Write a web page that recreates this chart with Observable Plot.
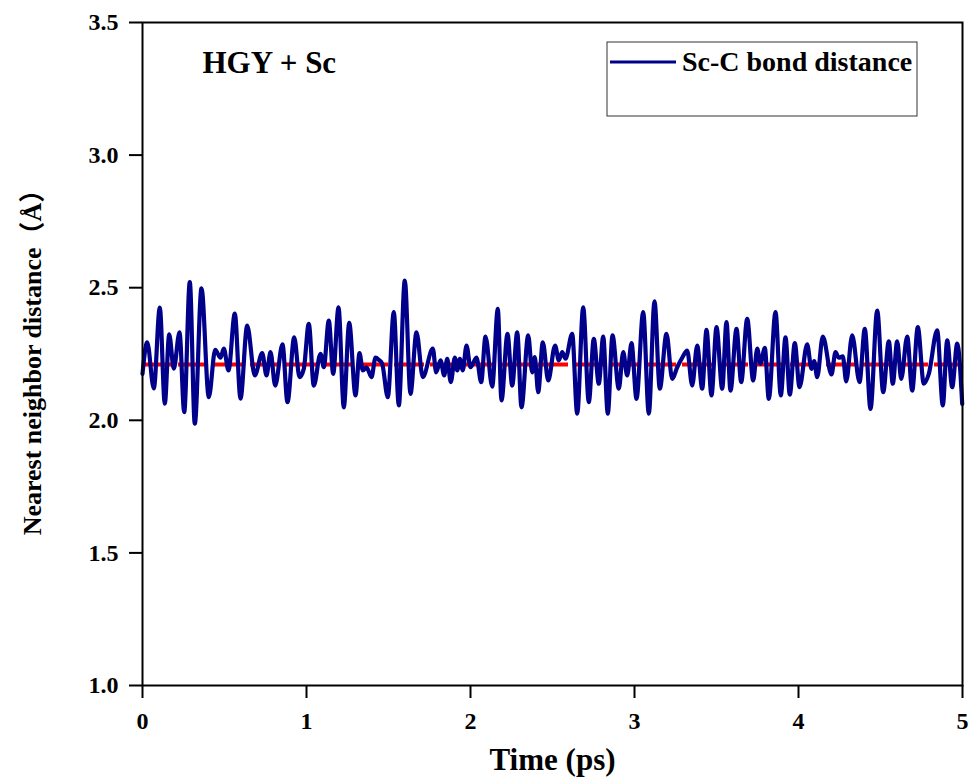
<!DOCTYPE html>
<html>
<head>
<meta charset="utf-8">
<script src="https://cdn.jsdelivr.net/npm/d3@7"></script>
<script src="https://cdn.jsdelivr.net/npm/@observablehq/plot@0.6"></script>
<style>
  html, body { margin: 0; padding: 0; background: #fff; }
  #chart svg { display: block; }
</style>
</head>
<body>
<div id="chart"></div>
<script>
// Time (ps) of the read extrema / shape points
const time = [
  0, 0.0287, 0.0689, 0.1055, 0.136, 0.1628, 0.1909, 0.2256, 0.2543, 0.2884,
  0.3189, 0.3598, 0.4043, 0.4433, 0.4756, 0.4957, 0.5244, 0.5628, 0.5976, 0.6384,
  0.6848, 0.7299, 0.7561, 0.7805, 0.8091, 0.8537, 0.8841, 0.925, 0.9573, 0.9835,
  1.014, 1.0445, 1.0854, 1.1055, 1.136, 1.1628, 1.1951, 1.2274, 1.2604, 1.2988,
  1.3232, 1.3433, 1.3659, 1.3963, 1.4207, 1.4409, 1.4616, 1.4957, 1.5323, 1.5628,
  1.5994, 1.6341, 1.6707, 1.7091, 1.7701, 1.7909, 1.8171, 1.8396, 1.858, 1.8799,
  1.9043, 1.9189, 1.9348, 1.953, 1.9756, 2.0, 2.0366, 2.0652, 2.0915, 2.1323,
  2.1665, 2.189, 2.2256, 2.2543, 2.2848, 2.311, 2.3518, 2.3762, 2.3921, 2.4128,
  2.4409, 2.4738, 2.5159, 2.5384, 2.5591, 2.5793, 2.6201, 2.6506, 2.6872, 2.7213,
  2.7518, 2.7823, 2.8091, 2.8372, 2.8659, 2.9043, 2.9311, 2.9555, 2.9817, 3.0122,
  3.053, 3.0872, 3.122, 3.1543, 3.1951, 3.2299, 3.2604, 3.2909, 3.3213, 3.3518,
  3.3823, 3.4128, 3.439, 3.4695, 3.5, 3.5348, 3.561, 3.5854, 3.622, 3.6506,
  3.6872, 3.7238, 3.7482, 3.7683, 3.7945, 3.8189, 3.8598, 3.8921, 3.9207, 3.947,
  3.9774, 4.0061, 4.053, 4.0793, 4.0957, 4.114, 4.1482, 4.2012, 4.2256, 4.2457,
  4.2701, 4.2909, 4.3274, 4.372, 4.4043, 4.439, 4.4799, 4.5165, 4.5506, 4.575,
  4.6018, 4.6262, 4.6628, 4.6933, 4.7274, 4.764, 4.7945, 4.8457, 4.8799, 4.9067,
  4.9372, 4.9677, 4.9982
];
// Sc-C nearest neighbor distance (Å)
const distance = [
  2.175, 2.294, 2.120, 2.425, 2.063, 2.324, 2.195, 2.332, 2.031, 2.521,
  1.987, 2.498, 2.087, 2.266, 2.236, 2.270, 2.188, 2.402, 2.082, 2.357,
  2.169, 2.253, 2.169, 2.257, 2.131, 2.286, 2.068, 2.313, 2.163, 2.194,
  2.364, 2.131, 2.251, 2.200, 2.376, 2.175, 2.426, 2.049, 2.367, 2.094,
  2.253, 2.188, 2.200, 2.163, 2.236, 2.228, 2.213, 2.087, 2.408, 2.056,
  2.527, 2.100, 2.332, 2.163, 2.270, 2.181, 2.226, 2.169, 2.232, 2.144,
  2.236, 2.188, 2.232, 2.188, 2.282, 2.200, 2.236, 2.144, 2.316, 2.127,
  2.420, 2.075, 2.326, 2.131, 2.332, 2.049, 2.320, 2.181, 2.238, 2.106,
  2.294, 2.150, 2.282, 2.226, 2.257, 2.232, 2.326, 2.025, 2.426, 2.068,
  2.307, 2.138, 2.316, 2.025, 2.320, 2.119, 2.257, 2.169, 2.291, 2.081,
  2.408, 2.025, 2.449, 2.119, 2.326, 2.156, 2.200, 2.236, 2.263, 2.131,
  2.282, 2.119, 2.341, 2.094, 2.351, 2.119, 2.370, 2.112, 2.345, 2.144,
  2.383, 2.150, 2.270, 2.213, 2.273, 2.081, 2.408, 2.094, 2.313, 2.097,
  2.291, 2.125, 2.286, 2.194, 2.223, 2.163, 2.316, 2.173, 2.257, 2.236,
  2.241, 2.147, 2.320, 2.144, 2.345, 2.043, 2.414, 2.106, 2.298, 2.138,
  2.298, 2.156, 2.316, 2.112, 2.351, 2.138, 2.175, 2.339, 2.056, 2.301,
  2.125, 2.289, 2.062
];
const averageDistance = [2.21];
const xTicks = [0, 1, 2, 3, 4, 5];
const yTicks = [1.0, 1.5, 2.0, 2.5, 3.0, 3.5];
const seriesName = "Sc-C bond distance";
const systemLabel = "HGY + Sc";
const xLabel = "Time (ps)";
const yLabelMain = "Nearest neighbor distance";
const yLabelUnit = ["（", "Å", "）"];

const data = time.map((t, i) => ({t, d: distance[i]}));
const FONT = "'Liberation Serif', 'Times New Roman', serif";
const CJK = "'Noto Sans CJK SC', 'Noto Sans CJK JP', sans-serif";
const NAVY = "#00008b";

const plot = Plot.plot({
  width: 971,
  height: 783,
  marginLeft: 142,
  marginRight: 9,
  marginTop: 22,
  marginBottom: 98,
  style: {fontFamily: FONT, fontWeight: "bold", background: "#fff", overflow: "visible"},
  x: {domain: [0, 5]},
  y: {domain: [1.0, 3.5]},
  marks: [
    Plot.ruleY(averageDistance, {stroke: "#ff0000", strokeWidth: 4, strokeDasharray: "30,6"}),
    Plot.line(data, {x: "t", y: "d", stroke: NAVY, strokeWidth: 4.2, curve: "monotone-x"}),
    Plot.frame({stroke: "#000", strokeWidth: 2}),
    Plot.axisX({ticks: xTicks, tickSize: 13, tickPadding: 13, tickFormat: d3.format("d"),
      fontSize: 24, fontWeight: "bold", strokeWidth: 2, label: null}),
    Plot.axisY({ticks: yTicks, tickSize: 13, tickPadding: 11, tickFormat: d3.format(".1f"),
      fontSize: 24, fontWeight: "bold", strokeWidth: 2, label: null}),
    Plot.text([xLabel], {frameAnchor: "bottom", dy: 84, fontSize: 31, fontWeight: "bold", fill: "#000"}),
    Plot.text([systemLabel], {frameAnchor: "top-left", dx: 60, dy: 41, textAnchor: "start", lineAnchor: "middle",
      fontSize: 31, fontWeight: "bold", fill: "#000"})
  ]
});

const svg = d3.select(plot);

// y axis title (rotated)
const yt = svg.append("text")
  .attr("transform", "translate(41,356) rotate(-90)")
  .attr("text-anchor", "middle")
  .attr("font-family", FONT).attr("font-weight", "bold").attr("font-size", 26)
  .attr("fill", "#000");
yt.append("tspan").text(yLabelMain);
yt.append("tspan").attr("font-family", CJK).text(yLabelUnit[0]);
yt.append("tspan").text(yLabelUnit[1]);
yt.append("tspan").attr("font-family", CJK).text(yLabelUnit[2]);

// legend box inside the plot area
const g = svg.append("g");
g.append("rect").attr("x", 607).attr("y", 42).attr("width", 310).attr("height", 74)
  .attr("fill", "#fff").attr("stroke", "#333").attr("stroke-width", 1);
g.append("line").attr("x1", 610).attr("x2", 676).attr("y1", 62).attr("y2", 62)
  .attr("stroke", NAVY).attr("stroke-width", 3);
g.append("text").attr("x", 682).attr("y", 62).attr("dy", "0.33em")
  .attr("text-anchor", "start")
  .attr("font-family", FONT).attr("font-weight", "bold").attr("font-size", 28)
  .attr("fill", "#000").text(seriesName);

document.getElementById("chart").appendChild(plot);
</script>
</body>
</html>
